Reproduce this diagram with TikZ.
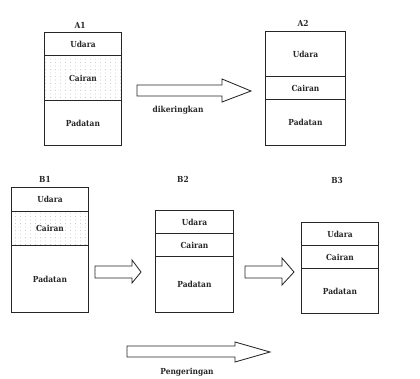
\documentclass[tikz,border=0pt]{standalone}
\usepackage{fontspec}
\newfontfamily\lblfam{DejaVu Serif Condensed}
\usetikzlibrary{patterns}
\pgfdeclarepatternformonly{stipple}{\pgfqpoint{-1pt}{-1pt}}{\pgfqpoint{2pt}{2pt}}{\pgfqpoint{5pt}{3.5pt}}{\pgfpathcircle{\pgfqpoint{0.5pt}{0.5pt}}{0.4pt}\pgfusepath{fill}}
\definecolor{ink}{gray}{0.15}
\newcommand{\lblfont}{\lblfam\fontsize{8.3}{10}\selectfont\bfseries}
\begin{document}
\begin{tikzpicture}[x=1pt,y=-1pt,
  layer/.style={draw=ink,line width=0.85pt,inner sep=0pt,anchor=north west,font=\lblfont,text=ink},
  liquid/.style={layer,pattern=stipple,pattern color=black!30},
  title/.style={font=\lblfont,text=ink,inner sep=1pt},
  blockarrow/.style={draw=ink,line width=0.85pt,line join=miter}]
\useasboundingbox (0,0) rectangle (420,378);
% A1
\node[title] (tA1) at (80,25) {A1};
\node[layer,minimum width=77pt,minimum height=23pt] (a1u) at (44,32) {Udara};
\node[liquid,minimum width=77pt,minimum height=45pt] (a1c) at (44,55) {Cairan};
\node[layer,minimum width=77pt,minimum height=45pt] (a1p) at (44,100) {Padatan};
% A2
\node[title] (tA2) at (303,23) {A2};
\node[layer,minimum width=80pt,minimum height=45pt] (a2u) at (265,31) {Udara};
\node[layer,minimum width=80pt,minimum height=23pt] (a2c) at (265,76) {Cairan};
\node[layer,minimum width=80pt,minimum height=46pt] (a2p) at (265,99) {Padatan};
% B1
\node[title] (tB1) at (45,179) {B1};
\node[layer,minimum width=77pt,minimum height=24pt] (b1u) at (11,187) {Udara};
\node[liquid,minimum width=77pt,minimum height=34pt] (b1c) at (11,211) {Cairan};
\node[layer,minimum width=77pt,minimum height=67pt] (b1p) at (11,245) {Padatan};
% B2
\node[title] (tB2) at (183,179) {B2};
\node[layer,minimum width=78pt,minimum height=23pt] (b2u) at (155,210) {Udara};
\node[layer,minimum width=78pt,minimum height=23pt] (b2c) at (155,233) {Cairan};
\node[layer,minimum width=78pt,minimum height=56pt] (b2p) at (155,256) {Padatan};
% B3
\node[title] (tB3) at (337,180) {B3};
\node[layer,minimum width=77pt,minimum height=23pt] (b3u) at (301,222) {Udara};
\node[layer,minimum width=77pt,minimum height=23pt] (b3c) at (301,245) {Cairan};
\node[layer,minimum width=77pt,minimum height=45pt] (b3p) at (301,268) {Padatan};
% arrows
\draw[blockarrow] (137,85) -- (222,85) -- (222,79) -- (251,91) -- (222,102) -- (222,96) -- (137,96) -- cycle;
\node[title] (dk) at (178,110) {dikeringkan};
\draw[blockarrow] (95,266) -- (132,266) -- (132,260) -- (141,272) -- (132,283) -- (132,278) -- (95,278) -- cycle;
\draw[blockarrow] (245,266) -- (282,266) -- (282,258) -- (294,272) -- (282,285) -- (282,278) -- (245,278) -- cycle;
\draw[blockarrow] (127,346) -- (235,346) -- (235,342) -- (270,352) -- (235,362) -- (235,357) -- (127,357) -- cycle;
\node[title] (pg) at (187,372) {Pengeringan};
\end{tikzpicture}
\end{document}
